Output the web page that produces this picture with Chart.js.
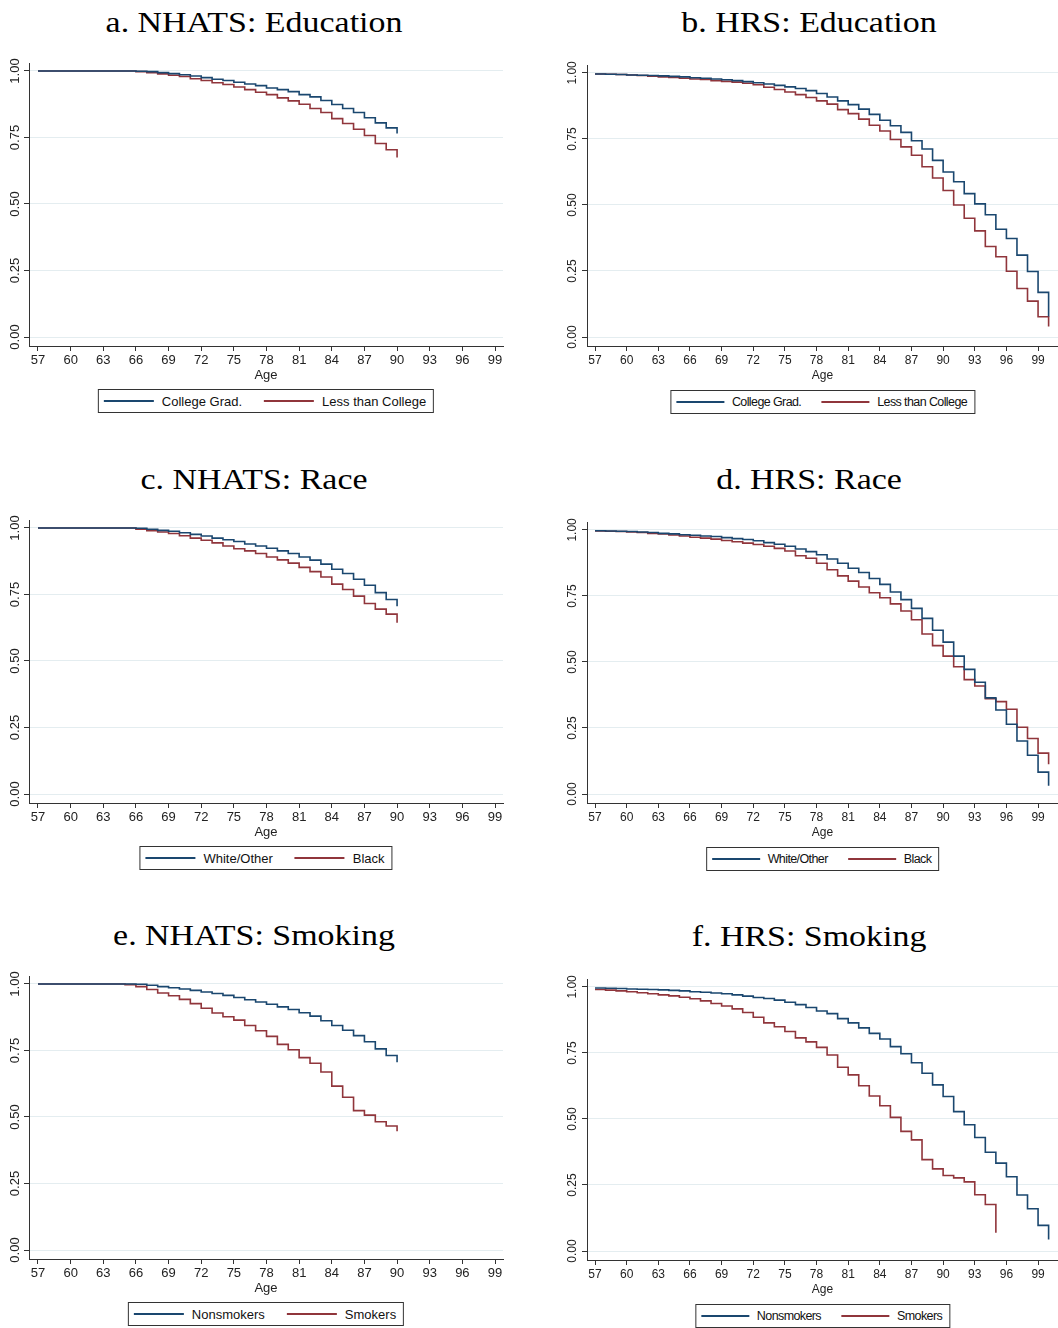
<!DOCTYPE html>
<html>
<head>
<meta charset="utf-8">
<script src="https://cdn.jsdelivr.net/npm/chart.js"></script>
<style>
  body { margin: 0; background: #fff; }
  #page { position: relative; width: 1058px; height: 1328px; overflow: hidden; }
  .ttl { position: absolute; font-family: 'Liberation Serif', serif; font-size: 29px; line-height: 29px; white-space: nowrap; color: #000; }
  canvas { position: absolute; }
  .lgd { position: absolute; height: 22px; border: 1px solid #333; display: flex; align-items: center;
         padding: 0 7px 0 5px; font: 13px 'Liberation Sans', Arial, sans-serif; color: #111; white-space: nowrap;
         transform: translateX(-50%); }
  .lgd .it { display: flex; align-items: center; }
  .lgd .ln { display: inline-block; width: 50px; height: 1.2px; margin-right: 8px; }
  .lgd .it + .it { margin-left: 22px; }
  .lgd.narrow { font-size: 12.5px; letter-spacing: -0.6px; padding: 0 7px 0 5px; }
  .lgd.narrow .ln { width: 48px; margin-right: 8px; }
  .lgd.narrow .it + .it { margin-left: 20px; }
</style>
</head>
<body>
<div id="page"></div>
<script>
// ages (x categories)
const nhatsAges = [57,58,59,60,61,62,63,64,65,66,67,68,69,70,71,72,73,74,75,76,77,78,79,80,81,82,83,84,85,86,87,88,89,90];
const hrsAges = [57,58,59,60,61,62,63,64,65,66,67,68,69,70,71,72,73,74,75,76,77,78,79,80,81,82,83,84,85,86,87,88,89,90,91,92,93,94,95,96,97,98,99,100];
const hrsSmokerAges = [57,58,59,60,61,62,63,64,65,66,67,68,69,70,71,72,73,74,75,76,77,78,79,80,81,82,83,84,85,86,87,88,89,90,91,92,93,94,95];

const xTicks = [57,60,63,66,69,72,75,78,81,84,87,90,93,96,99];
const yTicks = [0, 0.25, 0.5, 0.75, 1];
const yTickLabels = ["0.00", "0.25", "0.50", "0.75", "1.00"];

// a. NHATS education
const nhatsCollege = [1,1,1,1,1,1,1,1,1,0.999,0.9975,0.994,0.99,0.986,0.981,0.975,0.969,0.964,0.9575,0.951,0.945,0.936,0.93,0.9225,0.911,0.9025,0.889,0.874,0.859,0.844,0.824,0.805,0.786,0.765];
const nhatsLessCollege = [1,1,1,1,1,1,1,1,1,0.9975,0.994,0.989,0.984,0.979,0.971,0.964,0.956,0.949,0.94,0.93,0.92,0.911,0.899,0.8875,0.875,0.859,0.844,0.821,0.8025,0.781,0.7575,0.7275,0.704,0.675];
// b. HRS education
const hrsCollege = [0.996,0.995,0.994,0.992,0.991,0.99,0.989,0.987,0.985,0.982,0.98,0.977,0.974,0.971,0.967,0.963,0.958,0.953,0.947,0.941,0.933,0.922,0.909,0.894,0.88,0.863,0.843,0.821,0.8,0.775,0.743,0.712,0.669,0.625,0.588,0.543,0.504,0.463,0.408,0.373,0.31,0.248,0.169,0.078];
const hrsLessCollege = [0.996,0.995,0.994,0.992,0.99,0.988,0.985,0.983,0.98,0.977,0.975,0.971,0.968,0.965,0.961,0.955,0.946,0.937,0.928,0.918,0.907,0.894,0.882,0.861,0.846,0.825,0.802,0.78,0.748,0.72,0.688,0.645,0.602,0.555,0.5,0.45,0.402,0.343,0.304,0.249,0.184,0.136,0.077,0.04];
// c. NHATS race
const nhatsWhite = [1,1,1,1,1,1,1,1,1,0.999,0.995,0.991,0.9875,0.982,0.976,0.97,0.962,0.956,0.949,0.94,0.932,0.924,0.914,0.904,0.891,0.879,0.864,0.845,0.829,0.807,0.785,0.757,0.731,0.706];
const nhatsBlack = [1,1,1,1,1,1,1,1,1,0.995,0.99,0.985,0.979,0.971,0.962,0.954,0.944,0.932,0.922,0.914,0.904,0.891,0.88,0.868,0.852,0.836,0.816,0.789,0.769,0.744,0.716,0.695,0.676,0.644];
// d. HRS race
const hrsWhite = [0.997,0.996,0.995,0.994,0.992,0.99,0.987,0.985,0.982,0.98,0.977,0.975,0.971,0.967,0.964,0.959,0.952,0.946,0.938,0.928,0.918,0.906,0.89,0.874,0.855,0.839,0.816,0.794,0.765,0.736,0.703,0.665,0.62,0.575,0.522,0.472,0.423,0.364,0.318,0.264,0.201,0.147,0.083,0.031];
const hrsBlack = [0.996,0.995,0.994,0.992,0.99,0.987,0.985,0.981,0.977,0.972,0.969,0.965,0.96,0.955,0.95,0.945,0.938,0.93,0.92,0.902,0.893,0.874,0.849,0.826,0.806,0.784,0.762,0.743,0.72,0.693,0.66,0.606,0.562,0.522,0.482,0.433,0.409,0.361,0.35,0.321,0.253,0.21,0.155,0.113];
// e. NHATS smoking
const nhatsNonsmokers = [1,1,1,1,1,1,1,1,1,0.999,0.995,0.99,0.986,0.981,0.976,0.97,0.964,0.957,0.949,0.941,0.932,0.924,0.914,0.904,0.892,0.879,0.862,0.844,0.826,0.806,0.783,0.756,0.731,0.706];
const nhatsSmokers = [1,1,1,1,1,1,1,1,0.9975,0.99,0.979,0.966,0.956,0.942,0.926,0.909,0.891,0.877,0.864,0.844,0.824,0.803,0.773,0.753,0.723,0.702,0.669,0.616,0.574,0.524,0.507,0.482,0.466,0.446];
// f. HRS smoking
const hrsNonsmokers = [0.996,0.995,0.994,0.992,0.991,0.99,0.989,0.987,0.985,0.982,0.98,0.977,0.974,0.97,0.965,0.96,0.956,0.95,0.942,0.933,0.922,0.909,0.899,0.88,0.864,0.845,0.824,0.803,0.774,0.747,0.713,0.673,0.629,0.585,0.528,0.478,0.43,0.374,0.333,0.281,0.212,0.16,0.097,0.044];
const hrsSmokers = [0.99,0.988,0.985,0.982,0.978,0.974,0.97,0.966,0.961,0.955,0.947,0.937,0.928,0.917,0.903,0.885,0.864,0.849,0.831,0.807,0.792,0.771,0.742,0.696,0.667,0.626,0.587,0.55,0.506,0.453,0.421,0.346,0.311,0.286,0.277,0.262,0.213,0.176,0.069];

const eduNames = ["College Grad.", "Less than College"];
const raceNames = ["White/Other", "Black"];
const smokeNames = ["Nonsmokers", "Smokers"];
const seriesColors = ["#1a476f", "#90353b"];

const panels = [
  { title: "a. NHATS: Education", col: 0, row: 0, names: eduNames, ages: [nhatsAges, nhatsAges], vals: [nhatsCollege, nhatsLessCollege] },
  { title: "b. HRS: Education", col: 1, row: 0, names: eduNames, ages: [hrsAges, hrsAges], vals: [hrsCollege, hrsLessCollege] },
  { title: "c. NHATS: Race", col: 0, row: 1, names: raceNames, ages: [nhatsAges, nhatsAges], vals: [nhatsWhite, nhatsBlack] },
  { title: "d. HRS: Race", col: 1, row: 1, names: raceNames, ages: [hrsAges, hrsAges], vals: [hrsWhite, hrsBlack] },
  { title: "e. NHATS: Smoking", col: 0, row: 2, names: smokeNames, ages: [nhatsAges, nhatsAges], vals: [nhatsNonsmokers, nhatsSmokers] },
  { title: "f. HRS: Smoking", col: 1, row: 2, names: smokeNames, ages: [hrsAges, hrsSmokerAges], vals: [hrsNonsmokers, hrsSmokers] }
];

// column geometry
const cols = [
  { left: 0, width: 510, yAxisW: 29, padTop: 8, padRight: 7, xMin: 56.173, xMax: 99.735, yMin: -0.0338, yMax: 1.030,
    fontSize: 13, titleX: 254, lgdX: 266, lgdTop: 389, rowOff: [0, 457, 913], narrow: false },
  { left: 555, width: 503, yAxisW: 32, padTop: 10, padRight: 0, xMin: 56.24, xMax: 100.89, yMin: -0.034, yMax: 1.030,
    fontSize: 12, titleX: 809, lgdX: 822.5, lgdTop: 390, rowOff: [0, 457, 914], narrow: true }
];
const tickFamily = "'Liberation Sans', Arial, sans-serif";

const yLabelPlugin = {
  id: "yLabels",
  afterDraw(chart, args, opts) {
    const ctx = chart.ctx;
    const ys = chart.scales.y;
    ctx.save();
    ctx.font = opts.size + "px " + tickFamily;
    ctx.fillStyle = "#222";
    ctx.textAlign = "center";
    ctx.textBaseline = "middle";
    yTicks.forEach((v, i) => {
      ctx.save();
      ctx.translate(chart.chartArea.left - 14, ys.getPixelForValue(v));
      ctx.rotate(-Math.PI / 2);
      ctx.fillText(yTickLabels[i], 0, 0);
      ctx.restore();
    });
    ctx.restore();
  }
};

const page = document.getElementById("page");

panels.forEach(p => {
  const c = cols[p.col];
  const off = c.rowOff[p.row];

  const t = document.createElement("div");
  t.className = "ttl";
  t.textContent = p.title;
  t.style.left = c.titleX + "px";
  t.style.top = (8 + off) + "px";
  t.style.transform = "translateX(-50%) scaleX(1.17)";
  page.appendChild(t);

  const canvas = document.createElement("canvas");
  canvas.width = c.width;
  canvas.height = 328;
  canvas.style.left = c.left + "px";
  canvas.style.top = (55 + off) + "px";
  page.appendChild(canvas);

  const datasets = p.vals.map((vals, k) => ({
    label: p.names[k],
    data: vals.map((v, i) => ({ x: p.ages[k][i], y: v })),
    borderColor: seriesColors[k],
    borderWidth: 1.6,
    stepped: "before",
    pointRadius: 0,
    fill: false
  }));

  new Chart(canvas.getContext("2d"), {
    type: "line",
    data: { datasets: datasets },
    options: {
      responsive: false,
      animation: false,
      devicePixelRatio: 1,
      layout: { padding: { top: c.padTop, right: c.padRight, left: 0, bottom: 0 } },
      plugins: {
        legend: { display: false },
        tooltip: { enabled: false },
        yLabels: { size: c.fontSize }
      },
      scales: {
        x: {
          type: "linear",
          min: c.xMin,
          max: c.xMax,
          afterBuildTicks: s => { s.ticks = xTicks.map(v => ({ value: v })); },
          afterFit: s => { s.height = 37; },
          ticks: { font: { family: tickFamily, size: c.fontSize }, color: "#222", padding: 2, maxRotation: 0, autoSkip: false,
                   callback: v => String(v) },
          grid: { drawOnChartArea: false, drawTicks: true, tickLength: 5, tickColor: "#333" },
          border: { display: true, color: "#333", width: 1 },
          title: { display: true, text: "Age", font: { family: tickFamily, size: c.fontSize }, color: "#222", padding: 0 }
        },
        y: {
          type: "linear",
          min: c.yMin,
          max: c.yMax,
          afterBuildTicks: s => { s.ticks = yTicks.map(v => ({ value: v })); },
          afterFit: s => { s.width = c.yAxisW; },
          ticks: { display: false },
          grid: { color: "#e4edf0", lineWidth: 1, drawTicks: true, tickLength: 5, tickColor: "#333" },
          border: { display: true, color: "#333", width: 1 }
        }
      }
    },
    plugins: [yLabelPlugin]
  });

  const lg = document.createElement("div");
  lg.className = "lgd" + (c.narrow ? " narrow" : "");
  lg.style.left = c.lgdX + "px";
  lg.style.top = (c.lgdTop + off) + "px";
  p.names.forEach((name, k) => {
    const it = document.createElement("span");
    it.className = "it";
    const ln = document.createElement("span");
    ln.className = "ln";
    ln.style.backgroundColor = seriesColors[k];
    it.appendChild(ln);
    const tx = document.createElement("span");
    tx.textContent = name;
    it.appendChild(tx);
    lg.appendChild(it);
  });
  page.appendChild(lg);
});
</script>
</body>
</html>
